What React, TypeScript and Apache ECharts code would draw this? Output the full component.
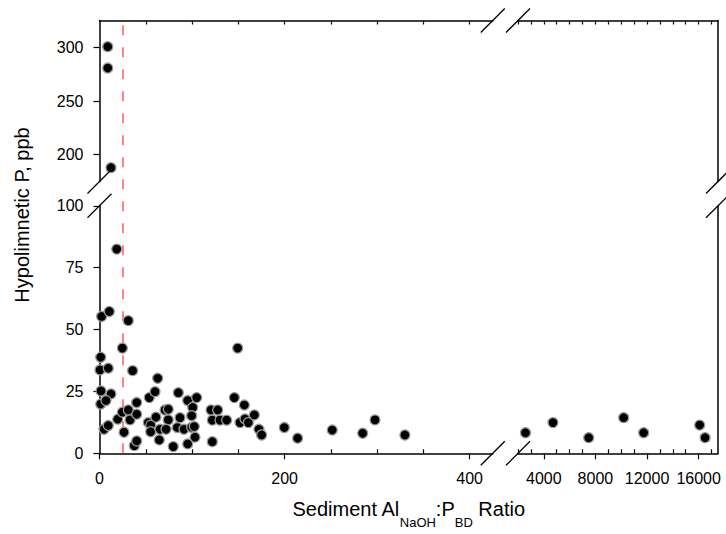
import React, { useEffect, useRef } from "react";
import * as echarts from "echarts";

// ---- data ----
const LOW_LEFT_POINTS: [number, number][] = [
  [2.3, 55.3], [10.6, 57.3], [31.1, 53.6], [24.7, 42.5], [149.3, 42.5], [18.6, 82.5],
  [1.3, 38.8], [0.5, 33.7], [9.5, 34.4], [35.8, 33.4], [62.9, 30.3],
  [1.6, 25.2], [12.4, 24], [1.3, 19.9], [7, 21.3], [4.9, 9.7], [9.5, 11.2],
  [19.7, 13.8], [24.7, 16.6], [26.5, 8.5], [31.1, 17.5], [33, 13.5], [40.2, 20.5], [40.2, 15.8],
  [37.6, 3.1], [40.2, 5],
  [53.8, 22.5], [52.7, 12.4], [55.3, 11.4], [55.3, 8.7], [60, 24.9], [61, 14.6], [65.4, 9.7], [64.6, 5.4],
  [70.8, 17.5], [74.3, 17.8], [74.3, 13.5], [71.9, 9.7], [79.7, 2.7], [85.2, 24.5], [84.1, 10.4],
  [87, 14.4], [91.3, 9.7],
  [95.3, 21.3], [100.7, 18.5], [99.6, 15.2], [99.6, 10.5], [95.3, 3.8], [102.4, 10.8], [103.2, 6.5],
  [105, 22.5],
  [120.5, 17.5], [121.9, 13.4], [121.9, 4.7], [127.7, 17.5], [130.2, 13.4], [137.4, 13.4], [145.7, 22.5],
  [151.8, 12.4], [156.5, 19.5], [157.2, 13.9], [160.8, 12.4], [167.3, 15.5], [172.3, 9.7], [175.2, 7.4],
  [199.7, 10.4], [214.1, 6.1], [251.5, 9.4], [284.4, 8.1], [297.7, 13.5], [330, 7.4],
];
const HIGH_LEFT_POINTS: [number, number][] = [
  [8.9, 300.6], [8.9, 280.7], [12.4, 187.9],
];
const LOW_RIGHT_POINTS: [number, number][] = [
  [2580, 8.3], [4710, 12.4], [7480, 6.3], [10190, 14.4], [11740, 8.3], [16080, 11.4], [16500, 6.3],
];
const REF_X = 25;

const LEFT_X_LABELS = [0, 200, 400];
const LEFT_X_MINOR = [50, 100, 150, 250, 300, 350];
const LEFT_X_TOP = [50, 100, 150, 200, 250, 300, 350, 400];
const RIGHT_X_LABELS = [4000, 8000, 12000, 16000];
const RIGHT_X_MINOR = [2000, 3000, 5000, 6000, 7000, 9000, 10000, 11000, 13000, 14000, 15000, 17000];
const RIGHT_X_TOP = [2000, 3000, 4000, 5000, 6000, 7000, 8000, 9000, 10000, 11000, 12000, 13000, 14000, 15000, 16000, 17000];
const LOW_Y_TICKS = [0, 25, 50, 75, 100];
const HIGH_Y_TICKS = [200, 250, 300];

const LEFT_X_RANGE = [0, 425];
const RIGHT_X_RANGE = [2000, 17500];
const LOW_Y_RANGE = [0, 100];
const HIGH_Y_RANGE = [175, 325];

// ---- layout ----
const FONT = "'Liberation Sans', Arial, sans-serif";
const GL = 99.5, GLW = 393.3, GR = 518, GRW = 200;
const GT = 20.5, GTH = 161, GB = 205.8, GBH = 247.5;
const AX = { show: true, onZero: false, lineStyle: { color: "#000", width: 1.5 } };

export default function App() {
  const ref = useRef<HTMLDivElement>(null);
  useEffect(() => {
    if (!ref.current) return;
    const chart = echarts.init(ref.current, null, { renderer: "svg" });
    const hiddenLabel = { show: false };
    const noSplit = { show: false };
    const grid = (left: number, top: number, width: number, height: number) => ({
      left, top, width, height, containLabel: false, outerBoundsMode: "none",
    });
    const label = {
      color: "#000", fontSize: 16, fontFamily: FONT,
      formatter: (v: number) => String(v),
    };
    const tickStyle = { color: "#000", width: 1.2 };
    const sym = {
      type: "scatter",
      symbol: "circle",
      symbolSize: 10,
      clip: false,
      z: 5,
      itemStyle: { color: "#000", borderColor: "#9a9a9a", borderWidth: 1.3, opacity: 1 },
      emphasis: { disabled: true },
    };
    const brk = (cx: number, cy: number) => ({
      type: "line",
      z: 100,
      shape: { x1: cx - 12, y1: cy + 12, x2: cx + 12, y2: cy - 12 },
      style: { stroke: "#000", lineWidth: 1.3 },
    });
    const option: any = {
      animation: false,
      backgroundColor: "#fff",
      grid: [
        grid(GL, GT, GLW, GTH),
        grid(GR, GT, GRW, GTH),
        grid(GL, GB, GLW, GBH),
        grid(GR, GB, GRW, GBH),
        grid(GL, GT, GLW, GB + GBH - GT),
      ],
      xAxis: [
        { type: "value", gridIndex: 0, position: "top", min: LEFT_X_RANGE[0], max: LEFT_X_RANGE[1],
          axisLine: AX, axisTick: { show: true, inside: true, length: 4, customValues: LEFT_X_TOP, lineStyle: tickStyle },
          axisLabel: hiddenLabel, splitLine: noSplit },
        { type: "value", gridIndex: 1, position: "top", min: RIGHT_X_RANGE[0], max: RIGHT_X_RANGE[1],
          axisLine: AX, axisTick: { show: true, inside: true, length: 4, customValues: RIGHT_X_TOP, lineStyle: tickStyle },
          axisLabel: hiddenLabel, splitLine: noSplit },
        { type: "value", gridIndex: 2, position: "bottom", min: LEFT_X_RANGE[0], max: LEFT_X_RANGE[1],
          axisLine: AX, axisTick: { show: true, inside: false, length: 6, customValues: LEFT_X_LABELS, lineStyle: tickStyle },
          axisLabel: { ...label, margin: 17, customValues: LEFT_X_LABELS }, splitLine: noSplit },
        { type: "value", gridIndex: 2, position: "bottom", min: LEFT_X_RANGE[0], max: LEFT_X_RANGE[1],
          axisLine: { show: false, onZero: false }, axisTick: { show: true, inside: true, length: 4, customValues: LEFT_X_MINOR, lineStyle: tickStyle },
          axisLabel: hiddenLabel, splitLine: noSplit },
        { type: "value", gridIndex: 3, position: "bottom", min: RIGHT_X_RANGE[0], max: RIGHT_X_RANGE[1],
          axisLine: AX, axisTick: { show: true, inside: false, length: 6, customValues: RIGHT_X_LABELS, lineStyle: tickStyle },
          axisLabel: { ...label, margin: 17, customValues: RIGHT_X_LABELS }, splitLine: noSplit },
        { type: "value", gridIndex: 3, position: "bottom", min: RIGHT_X_RANGE[0], max: RIGHT_X_RANGE[1],
          axisLine: { show: false, onZero: false }, axisTick: { show: true, inside: true, length: 4, customValues: RIGHT_X_MINOR, lineStyle: tickStyle },
          axisLabel: hiddenLabel, splitLine: noSplit },
        { type: "value", gridIndex: 4, show: false, min: LEFT_X_RANGE[0], max: LEFT_X_RANGE[1] },
      ],
      yAxis: [
        { type: "value", gridIndex: 0, position: "left", min: HIGH_Y_RANGE[0], max: HIGH_Y_RANGE[1],
          axisLine: AX, axisTick: { show: true, inside: false, length: 6, customValues: HIGH_Y_TICKS, lineStyle: tickStyle },
          axisLabel: { ...label, margin: 16, customValues: HIGH_Y_TICKS }, splitLine: noSplit },
        { type: "value", gridIndex: 1, position: "right", min: HIGH_Y_RANGE[0], max: HIGH_Y_RANGE[1],
          axisLine: AX, axisTick: { show: false }, axisLabel: hiddenLabel, splitLine: noSplit },
        { type: "value", gridIndex: 2, position: "left", min: LOW_Y_RANGE[0], max: LOW_Y_RANGE[1],
          axisLine: AX, axisTick: { show: true, inside: false, length: 6, customValues: LOW_Y_TICKS, lineStyle: tickStyle },
          axisLabel: { ...label, margin: 16, customValues: LOW_Y_TICKS }, splitLine: noSplit },
        { type: "value", gridIndex: 3, position: "right", min: LOW_Y_RANGE[0], max: LOW_Y_RANGE[1],
          axisLine: AX, axisTick: { show: false }, axisLabel: hiddenLabel, splitLine: noSplit },
        { type: "value", gridIndex: 4, show: false, min: 0, max: 1 },
      ],
      series: [
        { ...sym, name: "upper", xAxisIndex: 0, yAxisIndex: 0, data: HIGH_LEFT_POINTS },
        { ...sym, name: "lower", xAxisIndex: 2, yAxisIndex: 2, data: LOW_LEFT_POINTS },
        { ...sym, name: "right", xAxisIndex: 4, yAxisIndex: 3, data: LOW_RIGHT_POINTS },
        {
          type: "scatter", name: "ref", xAxisIndex: 6, yAxisIndex: 4, data: [], z: 1, silent: true,
          markLine: {
            silent: true, symbol: ["none", "none"], animation: false,
            label: { show: false },
            lineStyle: { color: "#ff6666", width: 1.6, type: [10, 12] },
            emphasis: { disabled: true },
            data: [{ xAxis: REF_X }],
          },
        },
      ],
      graphic: [
        brk(GL + GLW, GT), brk(GR, GT),
        brk(GL + GLW, GB + GBH), brk(GR, GB + GBH),
        brk(GL, GB), brk(GL, GT + GTH),
        brk(GR + GRW, GB), brk(GR + GRW, GT + GTH),
        {
          type: "text", x: 22, y: 215, rotation: Math.PI / 2, z: 100,
          style: {
            text: "Hypolimnetic P, ppb", fill: "#000", fontSize: 20, fontFamily: FONT,
            align: "center", verticalAlign: "middle", textAlign: "center", textVerticalAlign: "middle",
          },
        },
        {
          type: "text", x: 408.5, y: 509, z: 100,
          style: {
            text: "{a|Sediment Al}{b|NaOH}{a|:P}{b|BD}{a| Ratio}",
            fill: "#000", fontSize: 20, fontFamily: FONT,
            align: "center", verticalAlign: "middle", textAlign: "center", textVerticalAlign: "middle",
            rich: {
              a: { fontSize: 20, lineHeight: 20, fontFamily: FONT, fill: "#000", verticalAlign: "top" },
              b: { fontSize: 13, lineHeight: 13, fontFamily: FONT, fill: "#000", verticalAlign: "top", padding: [17, 0, 0, 0] },
            },
          },
        },
      ],
    };
    chart.setOption(option);
    return () => chart.dispose();
  }, []);
  return (
    <div
      ref={ref}
      style={{ position: "absolute", left: 0, top: 0, width: 726, height: 534, background: "#fff" }}
    />
  );
}
